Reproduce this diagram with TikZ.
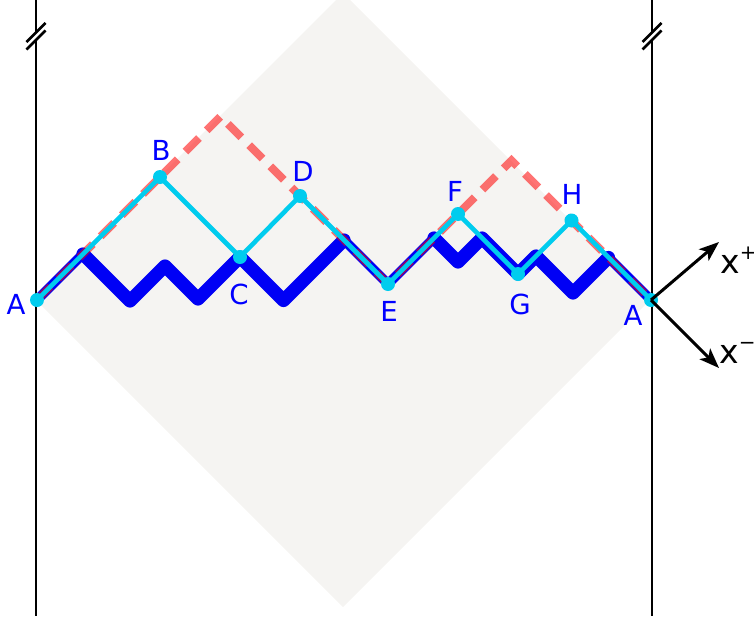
\documentclass[tikz,border=0pt]{standalone}
\usepackage{fontspec}
\setmainfont{DejaVu Sans}
\usetikzlibrary{arrows.meta}
\definecolor{diagfill}{RGB}{245,244,242}
\definecolor{cyanline}{RGB}{0,204,238}
\definecolor{lblblue}{RGB}{0,0,255}
\definecolor{zigblue}{RGB}{0,0,245}
\tikzset{
  vline/.style={line width=1.1pt, black},
  breakmark/.style={line width=1.3pt, black},
  breakgap/.style={line width=2.6pt, white},
  zigthick/.style={line width=6.6pt, zigblue, line join=round, line cap=round},
  zigthin/.style={line width=4.8pt, zigblue, line join=miter, line cap=butt},
  nullcone/.style={line width=4pt, red, opacity=0.55, dash pattern=on 9.5pt off 5.5pt, line join=miter},
  cyanpath/.style={line width=2.3pt, cyanline, line join=round},
  dotnode/.style={circle, fill=cyanline, inner sep=0pt, minimum size=7pt},
  lbl/.style={text=lblblue, font=\fontsize{13.8}{16}\selectfont, inner sep=0pt, anchor=center},
  axlbl/.style={font=\fontsize{16.5}{18}\selectfont, inner sep=0pt, anchor=base west},
  axarrow/.style={line width=1.5pt, black, -{Stealth[length=10pt,width=7.5pt,inset=2.5pt]}}
}
\begin{document}
\begin{tikzpicture}[x=0.5pt,y=-0.5pt]
\useasboundingbox (0,0) rectangle (754,621);
\clip (0,0) rectangle (754,621);
% grey diamond
\fill[diagfill] (343,-7) -- (650,300) -- (343,607) -- (36,300) -- cycle;
% vertical boundary lines
\coordinate (L1) at (36,-5);
\coordinate (L2) at (36,616);
\coordinate (R1) at (652,-5);
\coordinate (R2) at (652,616);
\draw[vline] (L1) -- (L2);
\draw[vline] (R1) -- (R2);
% break marks
\foreach \cx/\nm in {36/bl,652/br}{
  \coordinate (\nm gA) at (\cx-8,44.5);
  \coordinate (\nm gB) at (\cx+8,28.5);
  \coordinate (\nm sA) at (\cx-9.5,42);
  \coordinate (\nm sB) at (\cx+9.5,23);
  \coordinate (\nm tA) at (\cx-9.5,49.5);
  \coordinate (\nm tB) at (\cx+9.5,30.5);
  \draw[breakgap] (\nm gA) -- (\nm gB);
  \draw[breakmark] (\nm sA) -- (\nm sB);
  \draw[breakmark] (\nm tA) -- (\nm tB);
}
% key points
\coordinate (A1) at (37,300);
\coordinate (B) at (160,177);
\coordinate (C) at (240,257);
\coordinate (D) at (300,196);
\coordinate (E) at (388,284);
\coordinate (F) at (458,214);
\coordinate (G) at (518,274);
\coordinate (H) at (571.5,220.5);
\coordinate (A2) at (651,300);
\coordinate (P1) at (220.5,116.5);
\coordinate (P2) at (511.5,160.5);
% zigzag vertices
\coordinate (Q1) at (83,254);
\coordinate (V1) at (130,301);
\coordinate (Pa) at (165,266);
\coordinate (V2) at (198,299);
\coordinate (V3) at (283.5,300.5);
\coordinate (Q2) at (344,240);
\coordinate (Q3) at (434,238);
\coordinate (V4) at (458,262);
\coordinate (P4) at (482,238);
\coordinate (P5) at (536,256);
\coordinate (V5) at (573,293);
\coordinate (Q4) at (608.5,257.5);
% blue thick zigzag
\draw[zigthick] (Q1) -- (V1) -- (Pa) -- (V2) -- (C) -- (V3) -- (Q2);
\draw[zigthick] (Q3) -- (V4) -- (P4) -- (G) -- (P5) -- (V5) -- (Q4);
% blue thin null segments
\draw[zigthin] (A1) -- (Q1);
\draw[zigthin] (Q2) -- (E) -- (Q3);
\draw[zigthin] (Q4) -- (A2);
% red dashed null boundary
\draw[nullcone] (A1) -- (P1) -- (E) -- (P2) -- (A2);
% cyan path
\draw[cyanpath] (A1) -- (B) -- (C) -- (D) -- (E) -- (F) -- (G) -- (H) -- (A2);
% dots
\foreach \p in {A1,B,C,D,E,F,G,H,A2}{
  \node[dotnode] (dot\p) at (\p) {};
}
% labels
\node[lbl] (lA1) at (16,304) {A};
\node[lbl] (lB) at (161,150) {B};
\node[lbl] (lC) at (239,294) {C};
\node[lbl] (lD) at (303,171) {D};
\node[lbl] (lE) at (389,311) {E};
\node[lbl] (lF) at (455,191) {F};
\node[lbl] (lG) at (520,304) {G};
\node[lbl] (lH) at (572,194) {H};
\node[lbl] (lA2) at (633,315) {A};
% axes arrows
\coordinate (Xp) at (719,242);
\coordinate (Xm) at (719,368);
\draw[axarrow] (A2) -- (Xp);
\draw[axarrow] (A2) -- (Xm);
\node[axlbl] (lxp) at (720,273) {x\raisebox{6.6pt}{\fontsize{10}{12}\selectfont +}};
\node[axlbl] (lxm) at (719,363) {x\raisebox{7pt}{\fontsize{10}{12}\selectfont −}};
\end{tikzpicture}
\end{document}
